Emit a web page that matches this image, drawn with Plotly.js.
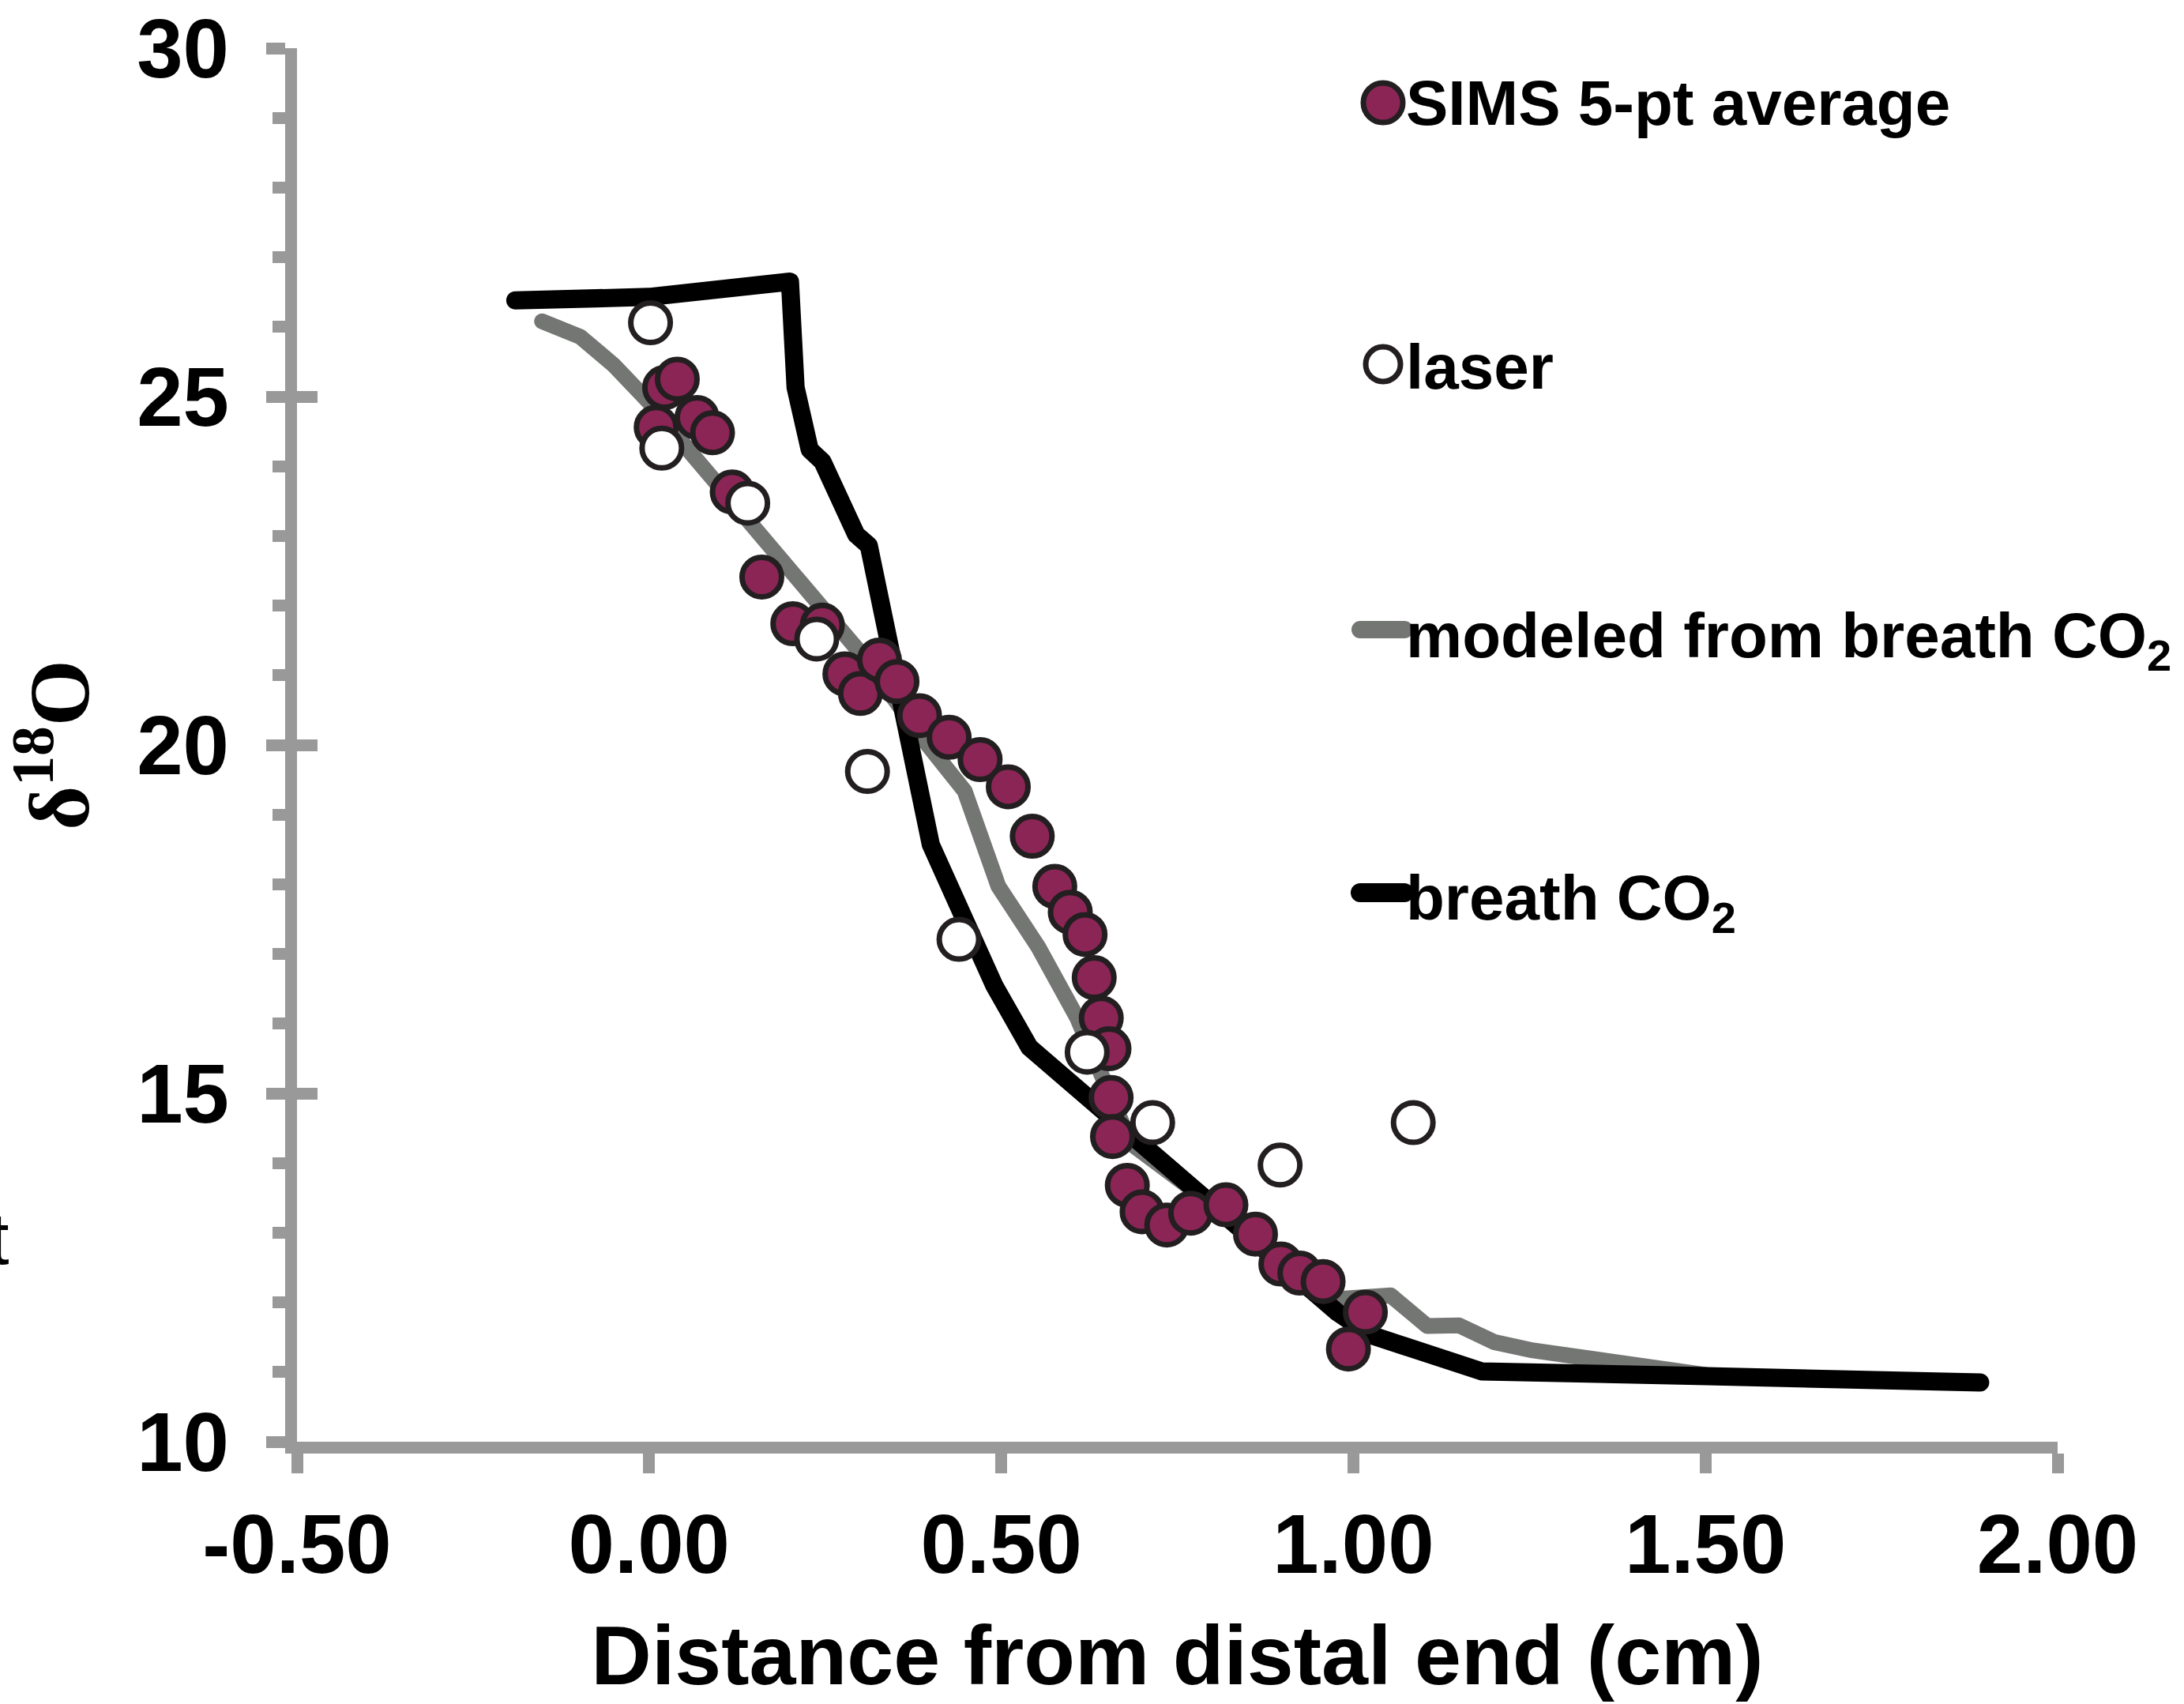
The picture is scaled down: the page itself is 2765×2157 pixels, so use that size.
<!DOCTYPE html>
<html>
<head>
<meta charset="utf-8">
<script src="https://cdn.plot.ly/plotly-3.0.1.min.js"></script>
<style>
html, body { margin: 0; padding: 0; background: #ffffff; }
#chart { width: 2765px; height: 2157px; }
.scatterlayer .js-line { stroke-linecap: round; stroke-linejoin: round; }
.shapelayer path { stroke-linecap: round; }
</style>
</head>
<body>
<div id="chart"></div>
<script>
// ---- data ----
const simsX = [0.010, 0.022, 0.040, 0.068, 0.090, 0.118, 0.160, 0.204, 0.246, 0.278, 0.300, 0.327, 0.352, 0.384, 0.426, 0.470, 0.510, 0.544, 0.576, 0.598, 0.619, 0.632, 0.642, 0.653, 0.656, 0.658, 0.679, 0.700, 0.735, 0.769, 0.819, 0.861, 0.897, 0.924, 0.957, 0.993, 1.017];
const simsY = [24.56, 25.13, 25.25, 24.70, 24.48, 23.63, 22.41, 21.74, 21.72, 21.02, 20.74, 21.22, 20.91, 20.42, 20.11, 19.79, 19.40, 18.69, 17.97, 17.60, 17.28, 16.66, 16.08, 15.64, 14.94, 14.38, 13.68, 13.30, 13.11, 13.28, 13.40, 12.98, 12.55, 12.42, 12.30, 11.33, 11.86];

const laserX = [0.002, 0.018, 0.140, 0.238, 0.310, 0.440, 0.622, 0.715, 0.896, 1.085];
const laserY = [26.06, 24.26, 23.47, 21.52, 19.62, 17.21, 15.59, 14.58, 13.97, 14.58];

const modelX = [-0.152, -0.098, -0.050, 0.000, 0.062, 0.134, 0.206, 0.306, 0.388, 0.448, 0.496, 0.552, 0.608, 0.684, 0.761, 0.980, 1.053, 1.105, 1.150, 1.200, 1.255, 1.320, 1.400, 1.500];
const modelY = [26.08, 25.86, 25.45, 24.92, 24.16, 23.31, 22.45, 21.25, 20.10, 19.34, 17.97, 17.11, 16.08, 14.28, 13.70, 12.05, 12.10, 11.66, 11.67, 11.43, 11.31, 11.22, 11.07, 10.96];

const breathX = [-0.190, 0.000, 0.200, 0.208, 0.228, 0.246, 0.294, 0.312, 0.400, 0.490, 0.540, 0.977, 1.025, 1.182, 1.502, 1.890];
const breathY = [26.38, 26.43, 26.65, 25.13, 24.24, 24.07, 23.02, 22.86, 18.57, 16.55, 15.66, 11.86, 11.53, 11.01, 10.94, 10.85];

const xTickVals = [-0.5, 0, 0.5, 1.0, 1.5, 2.0];
const xTickText = ['-0.50', '0.00', '0.50', '1.00', '1.50', '2.00'];
const yTickVals = [10, 15, 20, 25, 30];
const yTickText = ['10', '15', '20', '25', '30'];

const legendNames = ['SIMS 5-pt average', 'laser', 'modeled from breath CO<sub>2</sub>', 'breath CO<sub>2</sub>'];

// ---- styles ----
const AXIS_GRAY = '#999999';
const PINK = '#8B2556';
const OUTLINE = '#231F20';
const MODEL_GRAY = '#747674';
const SANS = 'Liberation Sans, Arial, sans-serif';
const SERIF = 'Liberation Serif, Times New Roman, serif';

const traces = [
  { x: modelX, y: modelY, mode: 'lines', name: legendNames[2],
    line: { color: MODEL_GRAY, width: 20 }, hoverinfo: 'skip', showlegend: false },
  { x: breathX, y: breathY, mode: 'lines', name: legendNames[3],
    line: { color: '#000000', width: 23 }, hoverinfo: 'skip', showlegend: false },
  { x: simsX, y: simsY, mode: 'markers', name: legendNames[0],
    marker: { size: 50, color: PINK, line: { color: OUTLINE, width: 7 } }, showlegend: false },
  { x: laserX, y: laserY, mode: 'markers', name: legendNames[1],
    marker: { size: 50, color: '#ffffff', line: { color: OUTLINE, width: 7 } }, showlegend: false },
  { x: [null], y: [null], yaxis: 'y2', mode: 'markers', showlegend: false, hoverinfo: 'skip' }
];

// legend geometry (paper coordinates)
const L = 376, R = 2605, T = 61, B = 1825;
const px = X => (X - L) / (R - L);
const py = Y => (B - Y) / (B - T);

const shapes = [
  { type: 'circle', xref: 'paper', yref: 'paper', xsizemode: 'pixel', ysizemode: 'pixel',
    xanchor: px(1751), yanchor: py(130), x0: -25, x1: 25, y0: -25, y1: 25,
    fillcolor: PINK, line: { color: OUTLINE, width: 7 } },
  { type: 'circle', xref: 'paper', yref: 'paper', xsizemode: 'pixel', ysizemode: 'pixel',
    xanchor: px(1751), yanchor: py(461), x0: -22, x1: 22, y0: -22, y1: 22,
    fillcolor: '#ffffff', line: { color: OUTLINE, width: 7 } },
  { type: 'line', xref: 'paper', yref: 'paper', x0: px(1722), x1: px(1778), y0: py(797), y1: py(797),
    line: { color: MODEL_GRAY, width: 22 } },
  { type: 'line', xref: 'paper', yref: 'paper', x0: px(1722), x1: px(1778), y0: py(1130), y1: py(1130),
    line: { color: '#000000', width: 24 } }
];

const legFont = { family: SANS, size: 80, color: '#000000', weight: 'bold' };
const annotations = [
  { xref: 'paper', yref: 'paper', x: px(1778), y: py(131), xanchor: 'left', yanchor: 'middle',
    text: legendNames[0], showarrow: false, font: legFont },
  { xref: 'paper', yref: 'paper', x: px(1778), y: py(464), xanchor: 'left', yanchor: 'middle',
    text: legendNames[1], showarrow: false, font: legFont },
  { xref: 'paper', yref: 'paper', x: px(1778), y: py(810), xanchor: 'left', yanchor: 'middle',
    text: legendNames[2], showarrow: false, font: legFont },
  { xref: 'paper', yref: 'paper', x: px(1778), y: py(1142), xanchor: 'left', yanchor: 'middle',
    text: legendNames[3], showarrow: false, font: legFont },
  { xref: 'paper', yref: 'paper', x: px(14), y: py(1568), xanchor: 'right', yanchor: 'middle',
    text: 't', showarrow: false, font: { family: SANS, size: 92, color: '#000000' } }
];

const layout = {
  width: 2765, height: 2157,
  paper_bgcolor: '#ffffff', plot_bgcolor: '#ffffff',
  margin: { l: L, r: 2765 - R, t: T, b: 2157 - B, pad: 0 },
  showlegend: false,
  xaxis: {
    range: [-0.5, 2.0], tickmode: 'array', tickvals: xTickVals, ticktext: xTickText,
    ticks: 'outside', ticklen: 25, tickwidth: 15, tickcolor: AXIS_GRAY,
    showline: true, linecolor: AXIS_GRAY, linewidth: 15, showgrid: false, zeroline: false,
    tickfont: { family: SANS, size: 105, color: '#000000', weight: 'bold' },
    title: { text: 'Distance from distal end (cm)', standoff: 52,
             font: { family: SANS, size: 106, color: '#000000', weight: 'bold' } },
    automargin: false
  },
  yaxis: {
    range: [10, 30], tickmode: 'array', tickvals: yTickVals, ticktext: yTickText,
    ticks: 'outside', ticklen: 24, tickwidth: 15, tickcolor: AXIS_GRAY,
    ticklabelstandoff: 26,
    minor: { dtick: 1, tick0: 10, ticks: 'outside', ticklen: 16, tickwidth: 15, tickcolor: AXIS_GRAY, showgrid: false },
    showline: true, linecolor: AXIS_GRAY, linewidth: 15, showgrid: false, zeroline: false,
    tickfont: { family: SANS, size: 105, color: '#000000', weight: 'bold' },
    title: { text: 'δ<sup>18</sup>O', standoff: 32,
             font: { family: SERIF, size: 108, color: '#000000', weight: 'bold' } },
    automargin: false
  },
  yaxis2: {
    overlaying: 'y', anchor: 'x', side: 'left', range: [10, 30],
    tickmode: 'array', tickvals: yTickVals, ticks: 'inside', ticklen: 26, tickwidth: 15,
    tickcolor: AXIS_GRAY, showticklabels: false, showline: false, showgrid: false, zeroline: false
  },
  shapes: shapes,
  annotations: annotations
};

Plotly.newPlot('chart', traces, layout, { staticPlot: true });
</script>
</body>
</html>
